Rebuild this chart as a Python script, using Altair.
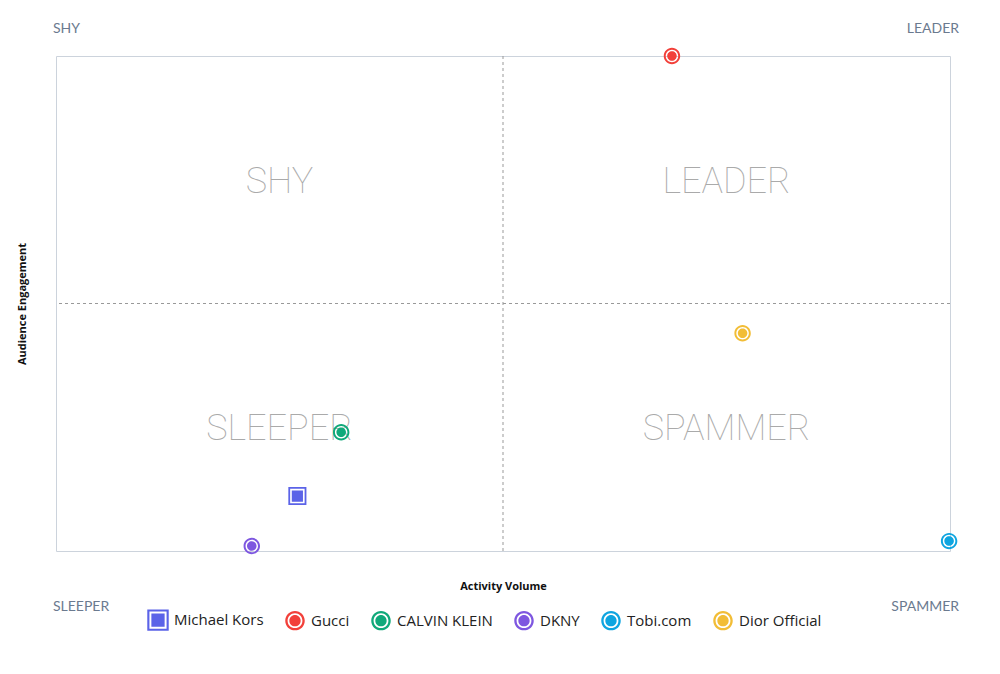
import altair as alt
import pandas as pd

# brands and their positions (0-100 on both axes)
brands = ["Michael Kors", "Gucci", "CALVIN KLEIN", "DKNY", "Tobi.com", "Dior Official"]
activity = [27.0, 68.9, 31.9, 21.9, 99.9, 76.8]
engagement = [11.1, 100.0, 24.0, 1.0, 2.0, 44.0]
colors = ["#5b63e8", "#f2403a", "#10a97a", "#7e57e0", "#0ea5e0", "#f2bd36"]

quadrants = ["SHY", "LEADER", "SLEEPER", "SPAMMER"]
quad_x = [25, 75, 25, 75]
quad_y = [75, 75, 25, 25]

# ring + gap + dot symbols, drawn as one filled path
ring = (
    "M-1,0A1,1,0,1,1,1,0A1,1,0,1,1,-1,0Z"
    "M-0.76,0A0.76,0.76,0,1,0,0.76,0A0.76,0.76,0,1,0,-0.76,0Z"
    "M-0.58,0A0.58,0.58,0,1,1,0.58,0A0.58,0.58,0,1,1,-0.58,0Z"
)
box = (
    "M-1.1,-1.1H1.1V1.1H-1.1Z"
    "M-0.88,-0.88V0.88H0.88V-0.88Z"
    "M-0.68,-0.68H0.68V0.68H-0.68Z"
)
shapes = [box, ring, ring, ring, ring, ring]

df = pd.DataFrame({"brand": brands, "activity": activity, "engagement": engagement})
quad_df = pd.DataFrame({"label": quadrants, "qx": quad_x, "qy": quad_y})

legend = alt.Legend(
    title=None,
    orient="none",
    legendX=92,
    legendY=554,
    direction="horizontal",
    symbolSize=380,
    symbolStrokeWidth=0,
    labelFont="Open Sans",
    labelFontSize=15,
    labelColor="#222222",
    columnPadding=21,
    labelOffset=6,
)

x_enc = alt.X(
    "activity:Q",
    scale=alt.Scale(domain=[0, 100], nice=False),
    axis=alt.Axis(title="Activity Volume", labels=False, ticks=False, domain=False,
                  grid=False, titlePadding=29),
)
y_enc = alt.Y(
    "engagement:Q",
    scale=alt.Scale(domain=[0, 100], nice=False),
    axis=alt.Axis(title="Audience Engagement", labels=False, ticks=False, domain=False,
                  grid=False, titlePadding=29),
)

points = (
    alt.Chart(df)
    .mark_point(filled=True, size=270, opacity=1, strokeWidth=0)
    .encode(
        x_enc,
        y_enc,
        color=alt.Color("brand:N", scale=alt.Scale(domain=brands, range=colors), legend=legend),
        shape=alt.Shape("brand:N", scale=alt.Scale(domain=brands, range=shapes), legend=legend),
    )
)

mid_x = (
    alt.Chart(pd.DataFrame({"v": [50]}))
    .mark_rule(color="#999999", strokeDash=[3, 3], strokeWidth=1)
    .encode(x="v:Q")
)
mid_y = (
    alt.Chart(pd.DataFrame({"v": [50]}))
    .mark_rule(color="#999999", strokeDash=[3, 3], strokeWidth=1)
    .encode(y="v:Q")
)

quad_text = (
    alt.Chart(quad_df)
    .mark_text(font="Roboto", fontWeight=100, fontSize=36, color="#aaaaaa", baseline="middle",
               dy=2)
    .encode(x="qx:Q", y="qy:Q", text="label:N")
)


def corner(label, cx, cy, align, dx, dy):
    return (
        alt.Chart(pd.DataFrame({"t": [label], "cx": [cx], "cy": [cy]}))
        .mark_text(font="Lato", fontSize=14, color="#6b7a8f", align=align, dx=dx, dy=dy,
                   baseline="middle")
        .encode(x="cx:Q", y="cy:Q", text="t:N")
    )


corners = [
    corner("SHY", 0, 100, "left", -3, -27),
    corner("LEADER", 100, 100, "right", 9, -27),
    corner("SLEEPER", 0, 0, "left", -3, 56),
    corner("SPAMMER", 100, 0, "right", 9, 56),
]

chart = (
    alt.layer(mid_x, mid_y, quad_text, *corners, points)
    .properties(
        width=894,
        height=495,
        autosize="none",
        padding={"left": 48, "top": 48, "right": 42, "bottom": 100},
    )
    .configure_view(stroke="#ccd3dc", strokeWidth=1)
    .configure_axis(titleFont="Open Sans", titleFontSize=11, titleFontWeight="bold",
                    titleColor="#111111")
)

chart.save("out.html", embed_options={"renderer": "svg", "actions": False})
